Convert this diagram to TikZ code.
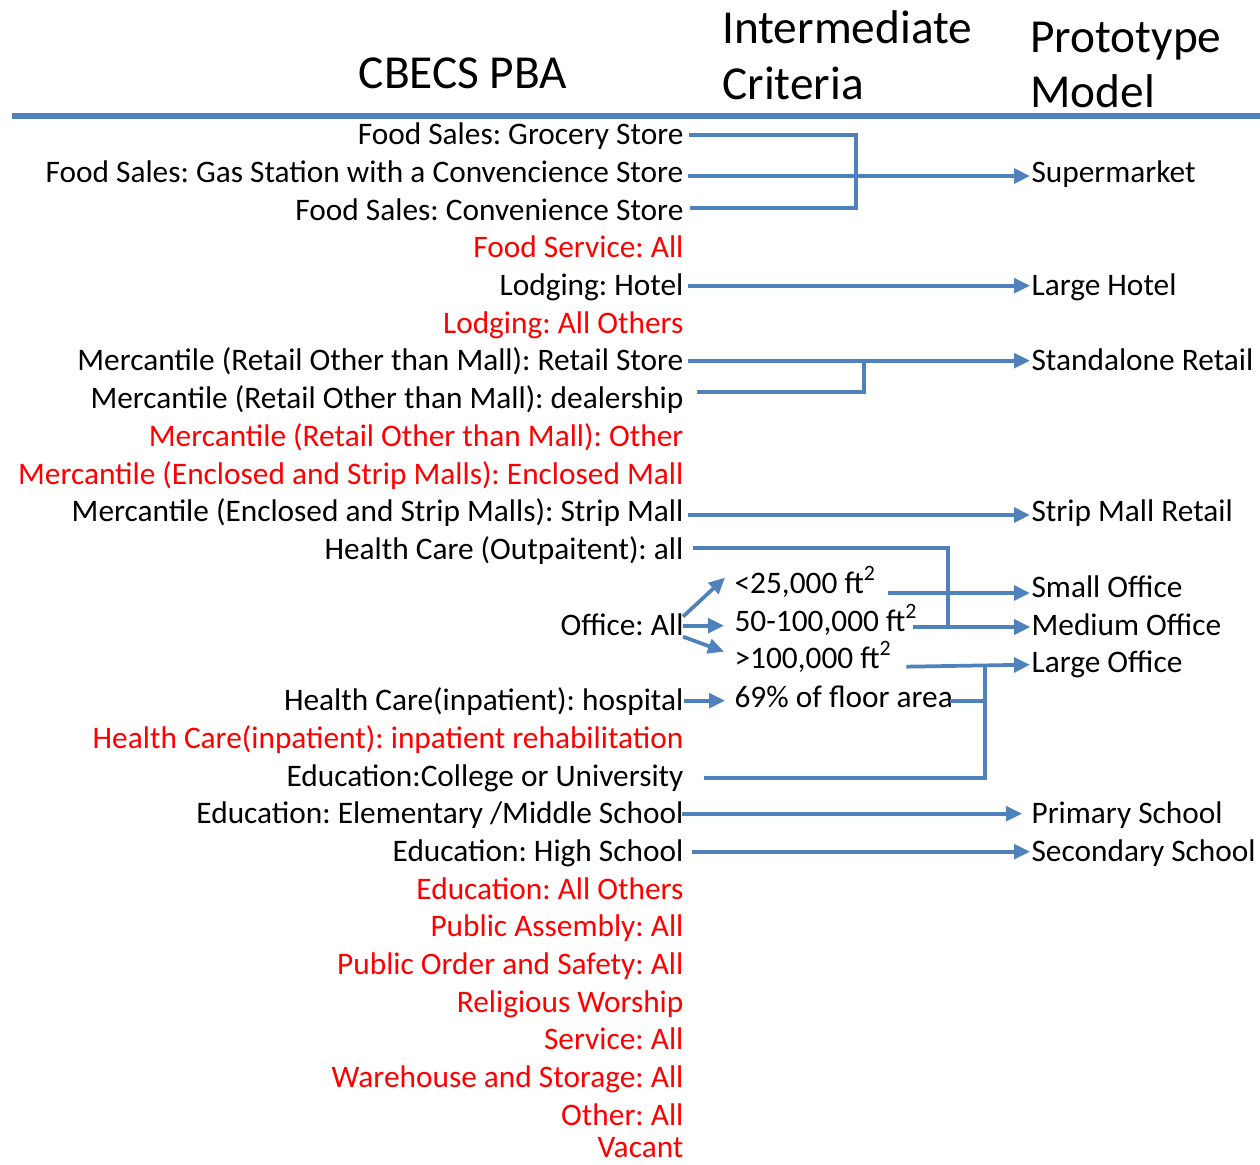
\documentclass[tikz,border=0pt]{standalone}
\usepackage{fontspec}
\setmainfont{Carlito}
\usetikzlibrary{arrows.meta}
\definecolor{lineblue}{RGB}{79,129,189}
\definecolor{redtxt}{RGB}{255,0,0}
\frenchspacing
\begin{document}
\begin{tikzpicture}[x=0.75pt,y=-0.75pt,
  txt/.style={inner xsep=1pt,inner ysep=0pt,text height=18.7pt,text depth=4.7pt,font=\fontsize{23.5pt}{28pt}\selectfont},
  lt/.style={txt,anchor=base east},
  rt/.style={txt,anchor=base west},
  redt/.style={lt,text=redtxt},
  hdr/.style={inner sep=0pt,anchor=base west,font=\fontsize{35.5pt}{40pt}\selectfont},
  conn/.style={draw=lineblue,line width=2.8pt},
  arr/.style={conn,-{Triangle[length=12pt,width=11pt]}}]
\useasboundingbox (0,0) rectangle (1260,1164);
% headers
\node[hdr,anchor=base] (hpba) at (463,88) {CBECS PBA};
\node[hdr] (hint) at (722,43) {Intermediate};
\node[hdr] (hcrit) at (722,99) {Criteria};
\node[hdr] (hproto) at (1030,52) {Prototype};
\node[hdr] (hmodel) at (1030,107) {Model};
\coordinate (rulel) at (12,116);
\coordinate (ruler) at (1260,116);
\draw[draw=lineblue,line width=3.8pt] (rulel) -- (ruler);
% left column
\node[lt] (gro) at (685,144) {Food Sales: Grocery Store};
\node[lt] (gas) at (685,182) {Food Sales: Gas Station with a Convencience Store};
\node[lt] (conv) at (685,220) {Food Sales: Convenience Store};
\node[redt] (fserv) at (685,257) {Food Service: All};
\node[lt] (hotel) at (685,295) {Lodging: Hotel};
\node[redt] (lodo) at (685,333) {Lodging: All Others};
\node[lt] (retail) at (685,370) {Mercantile (Retail Other than Mall): Retail Store};
\node[lt] (deal) at (685,408) {Mercantile (Retail Other than Mall): dealership};
\node[redt] (mother) at (685,446) {Mercantile (Retail Other than Mall): Other};
\node[redt] (encl) at (685,484) {Mercantile (Enclosed and Strip Malls): Enclosed Mall};
\node[lt] (strip) at (685,521) {Mercantile (Enclosed and Strip Malls): Strip Mall};
\node[lt] (outp) at (685,559) {Health Care (Outpaitent): all};
\node[lt] (office) at (685,635) {Office: All};
\node[lt] (hosp) at (685,710) {Health Care(inpatient): hospital};
\node[redt] (rehab) at (685,748) {Health Care(inpatient): inpatient rehabilitation};
\node[lt] (coll) at (685,786) {Education:College or University};
\node[lt] (elem) at (685,823) {Education: Elementary /Middle School};
\node[lt] (high) at (685,861) {Education: High School};
\node[redt] (eduo) at (685,899) {Education: All Others};
\node[redt] (pa) at (685,936) {Public Assembly: All};
\node[redt] (pos) at (685,974) {Public Order and Safety: All};
\node[redt] (rel) at (685,1012) {Religious Worship};
\node[redt] (serv) at (685,1049) {Service: All};
\node[redt] (ware) at (685,1087) {Warehouse and Storage: All};
\node[redt] (oth) at (685,1125) {Other: All};
\node[redt,text depth=0pt] (vac) at (685,1157) {Vacant};
% middle column
\node[rt] (lt25) at (733,593) {<25,000 ft\textsuperscript{2}};
\node[rt] (mid) at (733,631) {50-100,000 ft\textsuperscript{2}};
\node[rt] (gt100) at (733,668) {>100,000 ft\textsuperscript{2}};
\node[rt] (pct) at (733,707) {69\% of floor area};
% right column
\node[rt] (super) at (1030,182) {Supermarket};
\node[rt] (lhotel) at (1030,295) {Large Hotel};
\node[rt] (sretail) at (1030,370) {Standalone Retail};
\node[rt] (smr) at (1030,521) {Strip Mall Retail};
\node[rt] (smoff) at (1030,597) {Small Office};
\node[rt] (medoff) at (1030,635) {Medium Office};
\node[rt] (lgoff) at (1030,672) {Large Office};
\node[rt] (prim) at (1030,823) {Primary School};
\node[rt] (sec) at (1030,861) {Secondary School};
% junction coordinates
\coordinate (fsj) at (856,0);
\coordinate (rj) at (864,0);
\coordinate (oj) at (948,0);
\coordinate (lj) at (985,0);
% connectors
\draw[conn] ([xshift=3pt]gro.east) -| (fsj |- gro.east) |- ([xshift=4pt,yshift=2pt]conv.east);
\draw[arr,line width=3.6pt] ([xshift=2pt,yshift=-2.5pt]gas.east) -- ([yshift=-2.5pt]super.west);
\draw[arr] ([xshift=2pt]hotel.east) -- (lhotel.west);
\draw[arr] ([xshift=2pt]retail.east) -- (sretail.west);
\draw[conn] ([xshift=9pt,yshift=5pt]deal.east) -| (rj |- retail.east);
\draw[arr] ([xshift=2pt,yshift=-2.5pt]strip.east) -- ([yshift=-2.5pt]smr.west);
\draw[arr] ([xshift=6pt,yshift=1pt]outp.east) -| ([yshift=-1pt]oj |- medoff.west) -- ([yshift=-1pt]medoff.west);
\draw[arr] ([xshift=8pt,yshift=-4pt]lt25.east |- smoff.west) -- ([yshift=-4pt]smoff.west);
\draw[arr] ([xshift=-4pt,yshift=-1pt]mid.east |- medoff.west) -- ([yshift=-1pt]medoff.west);
\draw[arr] ([xshift=10pt,yshift=-3pt]gt100.east |- lgoff.west) -- ([yshift=-1.5pt]lgoff.west);
\draw[conn] ([xshift=-3pt,yshift=-2.5pt]pct.east) -| ([yshift=-3pt]lj |- lgoff.west);
\draw[conn] ([xshift=14pt,yshift=-1pt]coll.east) -| ([yshift=-3pt]lj |- lgoff.west);
\draw[arr] ([shift={(-2,-9)}]office.east) -- ([shift={(-8,-6)}]lt25.west);
\draw[arr] ([shift={(-2,0)}]office.east) -- ([shift={(-9,4)}]mid.west);
\draw[arr] ([shift={(-2,11)}]office.east) -- ([shift={(-9,-7)}]gt100.west);
\draw[arr] ([xshift=-1pt]hosp.east) -- ([xshift=-6pt]pct.west |- hosp.east);
\draw[arr] ([xshift=-2pt]elem.east) -- ([xshift=-6pt]prim.west);
\draw[arr] ([xshift=5pt]high.east) -- (sec.west);
\end{tikzpicture}
\end{document}
